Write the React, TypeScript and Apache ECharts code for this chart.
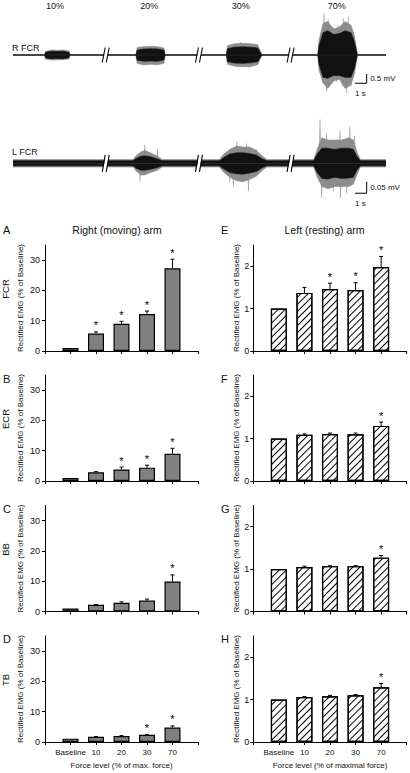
import React, { useEffect, useRef } from 'react';
import * as echarts from 'echarts';

const FONT = '"Liberation Sans", Arial, Helvetica, sans-serif';
const INK = '#111';

// ---------------- EMG raw traces (envelopes and spikes) ----------------
const FORCE_LABELS = ['10%', '20%', '30%', '70%'];
const FORCE_LABEL_X = [55, 149.3, 240.7, 336.7];

// Right FCR (mV), time in s
const R_T = [0, 2.7, 2.8, 3.3, 3.8, 4.3, 4.8, 4.9, 10.55, 10.65, 11.2, 11.8, 12.4, 12.95, 13.05, 18.3, 18.4, 19.0, 19.7, 20.4, 21.0, 21.35, 26.15, 26.25, 26.6, 27.0, 27.5, 28.0, 28.5, 29.0, 29.3, 29.55, 32];
const R_UP_OUT = [0, 0, 0.2, 0.27, 0.25, 0.27, 0.22, 0, 0, 0.4, 0.45, 0.47, 0.45, 0.38, 0, 0, 0.5, 0.6, 0.63, 0.6, 0.55, 0, 0, 0.8, 1.7, 1.8, 1.4, 1.5, 1.8, 1.6, 1.0, 0, 0];
const R_LO_OUT = [0, 0, -0.22, -0.27, -0.26, -0.25, -0.22, 0, 0, -0.45, -0.54, -0.5, -0.52, -0.45, 0, 0, -0.5, -0.6, -0.63, -0.62, -0.52, 0, 0, -0.8, -1.5, -1.8, -1.4, -1.3, -1.8, -1.6, -1.0, 0, 0];
const R_UP_IN = [0, 0, 0.15, 0.2, 0.19, 0.2, 0.15, 0, 0, 0.26, 0.32, 0.33, 0.32, 0.26, 0, 0, 0.34, 0.42, 0.44, 0.42, 0.38, 0, 0, 0.5, 1.2, 1.3, 1.1, 1.15, 1.3, 1.2, 0.7, 0, 0];
const R_LO_IN = [0, 0, -0.16, -0.2, -0.19, -0.2, -0.15, 0, 0, -0.28, -0.33, -0.32, -0.33, -0.27, 0, 0, -0.36, -0.43, -0.45, -0.42, -0.36, 0, 0, -0.5, -1.2, -1.25, -1.1, -1.1, -1.2, -1.2, -0.7, 0, 0];
const R_SPK_T = [19.5, 20.2, 26.57, 26.68, 26.91, 27.05, 27.26, 27.48, 27.77, 27.91, 28.29, 28.34, 28.63, 28.77, 29.0, 29.2];
const R_SPK_V = [0.7, -0.68, -1.52, 2.24, -1.97, 1.9, -1.6, 1.45, -1.45, 1.6, -1.7, 1.97, -2.06, 2.06, -1.7, 1.25];

// Left FCR (mV)
const L_T = [0, 10.3, 10.6, 11.0, 11.3, 11.8, 12.4, 12.8, 17.7, 18.1, 18.6, 19.2, 19.7, 20.3, 20.9, 21.4, 21.8, 25.8, 26.1, 26.5, 27.0, 27.6, 28.2, 28.8, 29.2, 29.5, 29.8, 32];
const L_UP_OUT = [0.016, 0.016, 0.035, 0.05, 0.055, 0.045, 0.03, 0.016, 0.016, 0.04, 0.06, 0.075, 0.07, 0.07, 0.055, 0.03, 0.016, 0.016, 0.06, 0.11, 0.1, 0.1, 0.1, 0.11, 0.1, 0.05, 0.016, 0.016];
const L_LO_OUT = [-0.016, -0.016, -0.035, -0.05, -0.05, -0.04, -0.03, -0.016, -0.016, -0.04, -0.06, -0.075, -0.08, -0.07, -0.055, -0.03, -0.016, -0.016, -0.06, -0.1, -0.11, -0.1, -0.1, -0.1, -0.09, -0.05, -0.016, -0.016];
const L_UP_IN = [0.011, 0.011, 0.022, 0.03, 0.032, 0.028, 0.018, 0.011, 0.011, 0.025, 0.04, 0.045, 0.045, 0.042, 0.035, 0.018, 0.011, 0.011, 0.04, 0.065, 0.065, 0.06, 0.065, 0.065, 0.06, 0.03, 0.011, 0.011];
const L_LO_IN = [-0.011, -0.011, -0.022, -0.03, -0.03, -0.026, -0.018, -0.011, -0.011, -0.025, -0.04, -0.045, -0.047, -0.042, -0.035, -0.018, -0.011, -0.011, -0.04, -0.065, -0.068, -0.06, -0.065, -0.063, -0.06, -0.03, -0.011, -0.011];
const L_SPK_T = [10.9, 11.3, 12.4, 18.6, 18.9, 19.2, 20.05, 20.2, 20.9, 26.34, 26.48, 26.91, 27.48, 28.05, 28.1, 28.63, 28.9, 29.3];
const L_SPK_V = [-0.08, 0.08, 0.06, -0.08, -0.1, 0.093, 0.085, -0.12, 0.06, 0.19, -0.15, 0.13, -0.12, 0.14, -0.15, -0.13, 0.16, 0.12];

const BREAKS_T = [8.04, 16.04, 23.9];
const SCALE_S = 1;
const SCALE_MV = [0.5, 0.05];
const SCALE_ORIGIN = [[29.34, -1.52], [29.34, -0.129]];

// ---------------- Bar panels ----------------
const X_CATS = ['', 'Baseline', '10', '20', '30', '70', ''];

// Right (moving) arm, % of baseline
const A_FCR_MEAN = [1.0, 5.8, 9.0, 12.2, 27.3];
const A_FCR_SEM = [0, 0.5, 0.8, 1.0, 3.0];
const A_FCR_SIG = [0, 1, 1, 1, 1];
const B_ECR_MEAN = [1.0, 2.9, 3.8, 4.4, 9.0];
const B_ECR_SEM = [0, 0.2, 0.8, 0.8, 1.8];
const B_ECR_SIG = [0, 0, 1, 1, 1];
const C_BB_MEAN = [1.0, 2.2, 2.9, 3.6, 9.9];
const C_BB_SEM = [0, 0.1, 0.3, 0.5, 2.2];
const C_BB_SIG = [0, 0, 0, 0, 1];
const D_TB_MEAN = [1.1, 1.7, 2.0, 2.4, 4.8];
const D_TB_SEM = [0, 0.1, 0.1, 0.1, 0.5];
const D_TB_SIG = [0, 0, 0, 1, 1];

// Left (resting) arm
const E_FCR_MEAN = [1.0, 1.37, 1.46, 1.44, 1.98];
const E_FCR_SEM = [0, 0.13, 0.14, 0.17, 0.25];
const E_FCR_SIG = [0, 0, 1, 1, 1];
const F_ECR_MEAN = [1.0, 1.09, 1.11, 1.1, 1.3];
const F_ECR_SEM = [0, 0.02, 0.02, 0.03, 0.09];
const F_ECR_SIG = [0, 0, 0, 0, 1];
const G_BB_MEAN = [1.0, 1.05, 1.07, 1.07, 1.27];
const G_BB_SEM = [0, 0.02, 0.01, 0.01, 0.05];
const G_BB_SIG = [0, 0, 0, 0, 1];
const H_TB_MEAN = [1.0, 1.06, 1.08, 1.1, 1.29];
const H_TB_SEM = [0, 0.01, 0.02, 0.02, 0.09];
const H_TB_SIG = [0, 0, 0, 0, 1];

const LEFT_TICKS = [0, 10, 20, 30];
const RIGHT_TICKS = [0, 1, 2];

const PANELS = [
  { letter: 'A', muscle: 'FCR', mean: A_FCR_MEAN, sem: A_FCR_SEM, sig: A_FCR_SIG, col: 0, row: 0 },
  { letter: 'B', muscle: 'ECR', mean: B_ECR_MEAN, sem: B_ECR_SEM, sig: B_ECR_SIG, col: 0, row: 1 },
  { letter: 'C', muscle: 'BB', mean: C_BB_MEAN, sem: C_BB_SEM, sig: C_BB_SIG, col: 0, row: 2 },
  { letter: 'D', muscle: 'TB', mean: D_TB_MEAN, sem: D_TB_SEM, sig: D_TB_SIG, col: 0, row: 3 },
  { letter: 'E', muscle: '', mean: E_FCR_MEAN, sem: E_FCR_SEM, sig: E_FCR_SIG, col: 1, row: 0 },
  { letter: 'F', muscle: '', mean: F_ECR_MEAN, sem: F_ECR_SEM, sig: F_ECR_SIG, col: 1, row: 1 },
  { letter: 'G', muscle: '', mean: G_BB_MEAN, sem: G_BB_SEM, sig: G_BB_SIG, col: 1, row: 2 },
  { letter: 'H', muscle: '', mean: H_TB_MEAN, sem: H_TB_SEM, sig: H_TB_SIG, col: 1, row: 3 },
];

// layout
const ROW_ZERO = [351, 481, 611.5, 742];
const ROW_LETTER_Y = [230, 379, 509, 639];
const GRID_H = 106;
const COL_LEFT = [45, 253.3];
const COL_W = [153, 153.4];

function buildOption() {
  const grid: any[] = [
    { left: 13, top: 8.5, width: 373, height: 93 },
    { left: 13, top: 116.9, width: 373, height: 92.8 },
  ];
  const xAxis: any[] = [
    { gridIndex: 0, type: 'value', min: 0, max: 32, show: false },
    { gridIndex: 1, type: 'value', min: 0, max: 32, show: false },
  ];
  const yAxis: any[] = [
    { gridIndex: 0, type: 'value', min: -2.5, max: 2.5, show: false },
    { gridIndex: 1, type: 'value', min: -0.2, max: 0.2, show: false },
  ];
  const series: any[] = [];

  const band = (g: number, T: number[], vals: number[], color: string, z: number) => ({
    type: 'line',
    xAxisIndex: g,
    yAxisIndex: g,
    data: T.map((t, i) => [t, vals[i]]),
    symbol: 'none',
    silent: true,
    z,
    lineStyle: { color, width: 0.6 },
    areaStyle: { color, opacity: 1 },
  });
  const spikes = (g: number, T: number[], V: number[]) => ({
    type: 'custom', xAxisIndex: g, yAxisIndex: g, silent: true, z: 1,
    itemStyle: { color: '#a8a8a8' },
    data: T.map((t, i) => [t, V[i]]),
    encode: { x: 0, y: 1 },
    renderItem: (_p: any, api: any) => {
      const a = api.coord([api.value(0), 0]);
      const b = api.coord([api.value(0), api.value(1)]);
      return {
        type: 'polygon',
        shape: { points: [[a[0] - 1.3, a[1]], [b[0] - 0.4, b[1]], [b[0] + 0.4, b[1]], [a[0] + 1.3, a[1]]] },
        style: { fill: '#a8a8a8' },
      };
    },
  });

  series.push(spikes(0, R_SPK_T, R_SPK_V));
  series.push(band(0, R_T, R_UP_OUT, '#8c8c8c', 2));
  series.push(band(0, R_T, R_LO_OUT, '#8c8c8c', 2));
  series.push(band(0, R_T, R_UP_IN, '#111', 3));
  series.push(band(0, R_T, R_LO_IN, '#111', 3));
  series.push({
    type: 'line', xAxisIndex: 0, yAxisIndex: 0, data: [[0, 0], [32, 0]], symbol: 'none', silent: true, z: 4,
    lineStyle: { color: '#222', width: 1 },
  });
  series.push(spikes(1, L_SPK_T, L_SPK_V));
  series.push(band(1, L_T, L_UP_OUT, '#8c8c8c', 2));
  series.push(band(1, L_T, L_LO_OUT, '#8c8c8c', 2));
  series.push(band(1, L_T, L_UP_IN, '#111', 3));
  series.push(band(1, L_T, L_LO_IN, '#111', 3));

  // break marks and scale bars
  [0, 1].forEach((g) => {
    series.push({
      type: 'custom', xAxisIndex: g, yAxisIndex: g, silent: true, z: 10,
      itemStyle: { color: '#000' },
      data: BREAKS_T.map((t) => [t, 0]),
      encode: { x: 0, y: 1 },
      renderItem: (_p: any, api: any) => {
        const p = api.coord([api.value(0), 0]);
        const h = g === 0 ? 7.5 : 8.5;
        return {
          type: 'group', x: p[0], y: p[1],
          children: [
            { type: 'polygon', shape: { points: [[-4, h], [-1, -h], [2.5, -h], [-0.5, h]] }, style: { fill: '#fff' } },
            { type: 'line', shape: { x1: -4.5, y1: h, x2: -1.5, y2: -h }, style: { stroke: '#000', lineWidth: 1.1 } },
            { type: 'line', shape: { x1: -0.5, y1: h, x2: 2.5, y2: -h }, style: { stroke: '#000', lineWidth: 1.1 } },
          ],
        };
      },
    });
    series.push({
      type: 'custom', xAxisIndex: g, yAxisIndex: g, silent: true, z: 10,
      itemStyle: { color: '#000' },
      data: [[SCALE_ORIGIN[g][0], SCALE_ORIGIN[g][1], SCALE_S, SCALE_MV[g]]],
      encode: { x: 0, y: 1 },
      renderItem: (_p: any, api: any) => {
        const t0 = api.value(0), v0 = api.value(1), dt = api.value(2), dv = api.value(3);
        const a = api.coord([t0, v0]);
        const b = api.coord([t0 + dt, v0]);
        const c = api.coord([t0 + dt, v0 + dv]);
        return {
          type: 'group',
          children: [
            { type: 'line', shape: { x1: a[0], y1: a[1], x2: b[0], y2: b[1] }, style: { stroke: '#000', lineWidth: 1 } },
            { type: 'line', shape: { x1: b[0], y1: b[1], x2: c[0], y2: c[1] }, style: { stroke: '#000', lineWidth: 1 } },
            { type: 'text', x: b[0] + 3.5, y: (b[1] + c[1]) / 2, style: { text: dv + ' mV', fontSize: 8, fontFamily: FONT, fill: INK, align: 'left', verticalAlign: 'middle' } },
            { type: 'text', x: a[0], y: a[1] + 6.5, style: { text: dt + ' s', fontSize: 8, fontFamily: FONT, fill: INK, align: 'left', verticalAlign: 'top' } },
          ],
        };
      },
    });
  });

  const graphic: any[] = [];
  const txt = (text: string, x: number, y: number, fontSize: number, align = 'center', rotation = 0) => ({
    type: 'text', x, y, rotation, silent: true,
    style: { text, fontSize, fontFamily: FONT, fill: INK, align, verticalAlign: 'middle' },
  });
  FORCE_LABELS.forEach((l, i) => graphic.push(txt(l, FORCE_LABEL_X[i], 6, 9)));
  graphic.push(txt('R FCR', 12, 47.5, 9, 'left'));
  graphic.push(txt('L FCR', 12, 152, 9, 'left'));
  graphic.push(txt('Right (moving) arm', 117, 229.5, 10.5));
  graphic.push(txt('Left (resting) arm', 324.5, 229.5, 10.5));

  PANELS.forEach((p, k) => {
    const gi = k + 2;
    const right = p.col === 1;
    const bottom = p.row === 3;
    grid.push({ left: COL_LEFT[p.col], top: ROW_ZERO[p.row] - GRID_H, width: COL_W[p.col], height: GRID_H });
    xAxis.push({
      gridIndex: gi, type: 'category', data: X_CATS, boundaryGap: false,
      axisLine: { show: true, onZero: false, lineStyle: { color: '#000', width: 1 } },
      axisTick: { show: true, length: 3, interval: 0, lineStyle: { color: '#000' } },
      axisLabel: { show: bottom, interval: 0, fontSize: 8, color: INK, fontFamily: FONT, margin: 6 },
      splitLine: { show: false },
      name: bottom ? (right ? 'Force level (% of maximal force)' : 'Force level (% of max. force)') : '',
      nameLocation: 'middle', nameGap: 19,
      nameTextStyle: { fontSize: 8, color: INK, fontFamily: FONT },
    });
    const ticks = right ? RIGHT_TICKS : LEFT_TICKS;
    yAxis.push({
      gridIndex: gi, type: 'value', min: 0, max: right ? 2.5 : 35, interval: right ? 1 : 10,
      axisLine: { show: true, lineStyle: { color: '#000', width: 1 } },
      axisTick: { show: true, length: 3, customValues: ticks, lineStyle: { color: '#000' } },
      axisLabel: { customValues: ticks, fontSize: 9, color: INK, fontFamily: FONT, margin: right ? 4 : 5 },
      splitLine: { show: false },
      name: 'Rectified EMG (% of Baseline)', nameLocation: 'middle', nameGap: right ? 13 : 21,
      nameTextStyle: { fontSize: 8, color: INK, fontFamily: FONT },
    });
    series.push({
      type: 'bar', xAxisIndex: gi, yAxisIndex: gi, silent: true, barWidth: 16,
      data: ['-', ...p.mean, '-'],
      itemStyle: right
        ? {
            color: '#fff', borderColor: '#000', borderWidth: 1.2,
            decal: { symbol: 'rect', symbolSize: 1, color: '#000', dashArrayX: [1, 0], dashArrayY: [1, 3.4], rotation: -Math.PI / 4 },
          }
        : { color: '#808080', borderColor: '#000', borderWidth: 1.2 },
    });
    series.push({
      type: 'custom', xAxisIndex: gi, yAxisIndex: gi, silent: true, z: 5,
      itemStyle: { color: '#000' },
      data: p.mean.map((m, j) => [j + 1, m, m + p.sem[j], p.sig[j]]),
      encode: { x: 0, y: 1 },
      renderItem: (_q: any, api: any) => {
        const x = api.value(0), m = api.value(1), top = api.value(2), sig = api.value(3);
        const pb = api.coord([x, m]);
        const pt = api.coord([x, top]);
        const children: any[] = [];
        if (top > m) {
          children.push({ type: 'line', shape: { x1: pb[0], y1: pb[1], x2: pt[0], y2: pt[1] }, style: { stroke: '#000', lineWidth: 1 } });
          children.push({ type: 'line', shape: { x1: pt[0] - 2, y1: pt[1], x2: pt[0] + 2, y2: pt[1] }, style: { stroke: '#000', lineWidth: 1 } });
        }
        if (sig) {
          children.push({ type: 'text', x: pt[0], y: pt[1] - 1, style: { text: '*', fontSize: 11, fontFamily: FONT, fill: '#000', align: 'center', verticalAlign: 'bottom' } });
        }
        return { type: 'group', children };
      },
    });
    graphic.push(txt(p.letter, right ? 221 : 3, ROW_LETTER_Y[p.row], 11, 'left'));
    if (p.muscle) graphic.push(txt(p.muscle, 5, ROW_ZERO[p.row] - 62, 9.5, 'center', Math.PI / 2));
  });

  return { animation: false, backgroundColor: '#fff', grid, xAxis, yAxis, series, graphic };
}

export default function App() {
  const ref = useRef<HTMLDivElement>(null);
  useEffect(() => {
    const chart = echarts.init(ref.current!, undefined, { renderer: 'svg' });
    chart.setOption(buildOption() as any);
    return () => chart.dispose();
  }, []);
  return <div ref={ref} style={{ position: 'absolute', left: 0, top: 0, width: 410, height: 773, background: '#fff' }} />;
}
